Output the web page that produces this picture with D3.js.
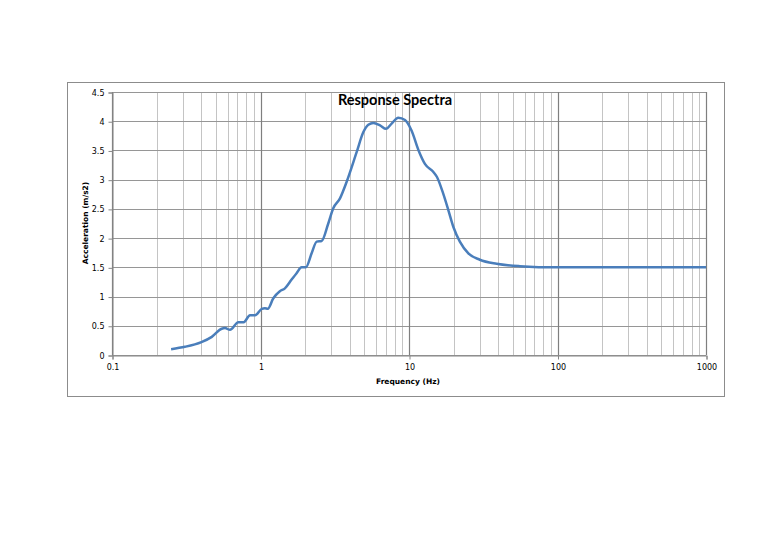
<!DOCTYPE html>
<html>
<head>
<meta charset="utf-8">
<script src="https://cdn.jsdelivr.net/npm/d3@7"></script>
<style>
  body { margin: 0; background: #fff; }
  svg { display: block; }
</style>
</head>
<body>
<div id="chart"></div>
<script>
// Response spectrum (Hz, m/s2)
const freq = [0.25, 0.31, 0.40, 0.47, 0.548, 0.577, 0.623, 0.71, 0.77, 0.85, 0.92, 1.02, 1.07, 1.12,
  1.22, 1.35, 1.46, 1.62, 1.75, 1.89, 2.02, 2.21, 2.39, 2.58, 2.86, 3.09, 3.43, 3.80, 4.44, 4.92,
  5.32, 5.75, 6.38, 7.0, 7.64, 8.47, 9.4, 10.4, 11.6, 12.8, 14.6, 15.4, 17.0, 18.4, 19.9, 22.0,
  25.1, 30.0, 38.9, 55.8, 100, 1000];
const accel = [0.10, 0.14, 0.22, 0.31, 0.45, 0.46, 0.43, 0.56, 0.56, 0.68, 0.68, 0.79, 0.80, 0.79,
  0.97, 1.09, 1.14, 1.29, 1.40, 1.50, 1.50, 1.74, 1.94, 1.95, 2.25, 2.51, 2.68, 2.96, 3.47, 3.81,
  3.94, 3.97, 3.93, 3.87, 3.96, 4.06, 4.02, 3.84, 3.50, 3.27, 3.13, 3.05, 2.76, 2.48, 2.19, 1.94,
  1.74, 1.63, 1.56, 1.52, 1.50, 1.50];

const yTicks = [0, 0.5, 1, 1.5, 2, 2.5, 3, 3.5, 4, 4.5];
const xTicks = [0.1, 1, 10, 100, 1000];
const xTickLabels = ["0.1", "1", "10", "100", "1000"];

const W = 768, H = 543;
const box = { left: 67.5, top: 82.5, right: 724.5, bottom: 396.5 };
const plot = { left: 112, right: 706, top: 92, bottom: 355 };

const svg = d3.select("#chart").append("svg")
  .attr("width", W).attr("height", H);

svg.append("rect")
  .attr("x", box.left).attr("y", box.top)
  .attr("width", box.right - box.left).attr("height", box.bottom - box.top)
  .attr("fill", "#fff").attr("stroke", "#8c8c8c").attr("stroke-width", 1);

const x = d3.scaleLog().domain([0.1, 1000]).range([plot.left, plot.right]);
const y = d3.scaleLinear().domain([0, 4.5]).range([plot.bottom, plot.top]);

// minor vertical grid
const minor = [];
for (let d = 0.1; d < 1000; d *= 10) {
  for (let k = 2; k <= 9; k++) minor.push(d * k);
}
svg.append("g").selectAll("line").data(minor).join("line")
  .attr("x1", d => Math.round(x(d)) + 0.5).attr("x2", d => Math.round(x(d)) + 0.5)
  .attr("y1", plot.top).attr("y2", plot.bottom)
  .attr("stroke", "#c4c4c4").attr("stroke-width", 1);

// horizontal grid
svg.append("g").selectAll("line").data(yTicks).join("line")
  .attr("x1", plot.left).attr("x2", plot.right)
  .attr("y1", d => Math.round(y(d)) + 0.5).attr("y2", d => Math.round(y(d)) + 0.5)
  .attr("stroke", "#969696").attr("stroke-width", 1);

// major vertical grid
svg.append("g").selectAll("line").data(xTicks).join("line")
  .attr("x1", d => Math.round(x(d)) + 0.5).attr("x2", d => Math.round(x(d)) + 0.5)
  .attr("y1", plot.top).attr("y2", plot.bottom)
  .attr("stroke", "#7f7f7f").attr("stroke-width", 1.2);

// axes
const yAxis = svg.append("g")
  .attr("transform", `translate(${plot.left + 0.5},0.5)`)
  .call(d3.axisLeft(y).tickValues(yTicks).tickSize(4).tickPadding(4)
    .tickFormat(d => String(d)));
const xAxis = svg.append("g")
  .attr("transform", `translate(0.5,${plot.bottom + 0.5})`)
  .call(d3.axisBottom(x).tickValues(xTicks).tickSize(4).tickPadding(5)
    .tickFormat((d, i) => xTickLabels[i]));
[yAxis, xAxis].forEach(g => {
  g.select(".domain").attr("stroke", "#868686");
  g.selectAll(".tick line").attr("stroke", "#868686");
  g.selectAll(".tick text").attr("fill", "#000")
    .style("font-family", "'DejaVu Sans', sans-serif").style("font-size", "8px");
});

// curve
const data = freq.map((f, i) => ({ f, a: accel[i] }));
svg.append("path")
  .datum(data)
  .attr("fill", "none")
  .attr("stroke", "#4a7ebb")
  .attr("stroke-width", 2.5)
  .attr("stroke-linejoin", "round")
  .attr("d", d3.line().x(d => x(d.f)).y(d => y(d.a)).curve(d3.curveMonotoneX));

// titles
svg.append("text")
  .attr("x", 395).attr("y", 105)
  .attr("text-anchor", "middle")
  .style("font-family", "Lato, sans-serif").style("font-weight", "bold").style("font-size", "14.5px")
  .text("Response Spectra");

svg.append("text")
  .attr("x", 408).attr("y", 384)
  .attr("text-anchor", "middle")
  .style("font-family", "'DejaVu Sans', sans-serif").style("font-weight", "bold").style("font-size", "7.5px")
  .text("Frequency (Hz)");

svg.append("text")
  .attr("transform", "translate(88,223) rotate(-90)")
  .attr("text-anchor", "middle")
  .style("font-family", "'DejaVu Sans', sans-serif").style("font-weight", "bold").style("font-size", "7.5px")
  .text("Acceleration (m/s2)");
</script>
</body>
</html>
